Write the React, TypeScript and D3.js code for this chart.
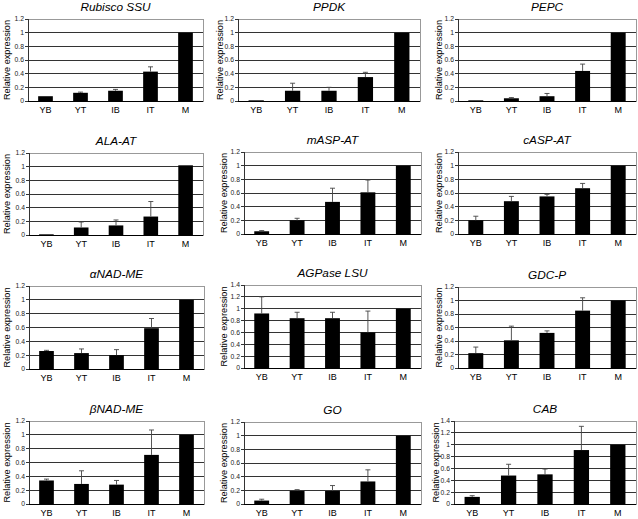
import React from "react";
import * as d3 from "d3";

const categories = ["YB", "YT", "IB", "IT", "M"];

const genes = [
  "Rubisco SSU", "PPDK", "PEPC",
  "ALA-AT", "mASP-AT", "cASP-AT",
  "\u03B1NAD-ME", "AGPase LSU", "GDC-P",
  "\u03B2NAD-ME", "GO", "CAB",
];

const yMaxes = [1.2, 1.2, 1.2, 1.2, 1.2, 1.2, 1.2, 1.4, 1.2, 1.2, 1.2, 1.4];

const meanValues = [
  [0.07, 0.12, 0.15, 0.43, 1.0],
  [0.01, 0.15, 0.15, 0.35, 1.0],
  [0.01, 0.04, 0.07, 0.44, 1.0],
  [0.01, 0.11, 0.14, 0.27, 1.02],
  [0.04, 0.2, 0.47, 0.61, 1.0],
  [0.2, 0.48, 0.55, 0.67, 1.0],
  [0.26, 0.23, 0.2, 0.59, 1.0],
  [0.92, 0.84, 0.84, 0.6, 1.0],
  [0.22, 0.41, 0.52, 0.85, 1.0],
  [0.34, 0.29, 0.28, 0.71, 1.0],
  [0.05, 0.19, 0.19, 0.33, 1.0],
  [0.12, 0.48, 0.5, 0.91, 1.0],
];

const errorValues = [
  [0.0, 0.01, 0.02, 0.07, 0.0],
  [0.0, 0.11, 0.05, 0.07, 0.0],
  [0.0, 0.01, 0.04, 0.1, 0.0],
  [0.0, 0.08, 0.08, 0.22, 0.0],
  [0.01, 0.03, 0.2, 0.18, 0.0],
  [0.06, 0.07, 0.03, 0.07, 0.0],
  [0.01, 0.06, 0.08, 0.14, 0.0],
  [0.28, 0.1, 0.1, 0.36, 0.0],
  [0.09, 0.21, 0.03, 0.19, 0.0],
  [0.02, 0.19, 0.06, 0.36, 0.0],
  [0.02, 0.02, 0.08, 0.17, 0.0],
  [0.02, 0.19, 0.09, 0.4, 0.0],
];

// layout per panel: [left, right, top, bottom, yTitleX]
const layout = [
  [28, 203, 19, 101, 7], [238, 420, 19, 101, 220], [458, 636, 19, 101, 439],
  [29, 203, 153, 235, 7], [244, 421, 152, 234, 224], [458, 636, 152, 234, 439],
  [29, 204, 286, 369, 7], [244, 421, 285, 368, 224], [458, 636, 287, 368, 439],
  [29, 204, 421, 504, 7], [244, 421, 422, 504, 224], [454, 636, 421, 504, 436],
];

const FONT = "'Liberation Sans', Arial, Helvetica, sans-serif";

function Panel({ idx }: { idx: number }) {
  const [l, r, t, b, yt] = layout[idx];
  const yMax = yMaxes[idx];
  const x = d3.scaleBand<string>().domain(categories).range([l, r]).paddingInner(0).paddingOuter(0);
  const y = d3.scaleLinear().domain([0, yMax]).range([b, t]);
  const ticks = d3.range(0, yMax + 0.001, 0.2).map((v) => +v.toFixed(1));
  const bw = x.bandwidth() * 0.42;
  const vals = meanValues[idx];
  const errs = errorValues[idx];
  return (
    <g>
      <text x={(l + r) / 2} y={t - 8.5} textAnchor="middle" fontStyle="italic" fontSize={11.8} fontFamily={FONT}>
        {genes[idx]}
      </text>
      <rect x={l} y={t} width={r - l} height={b - t} fill="white" stroke="#999" strokeWidth={1} shapeRendering="crispEdges" />
      {ticks.map((v) => (
        <g key={v}>
          {v > 0 && v < yMax - 0.001 && (
            <line x1={l} x2={r} y1={y(v)} y2={y(v)} stroke="#333" strokeWidth={1} shapeRendering="crispEdges" />
          )}
          <line x1={l - 3} x2={l} y1={y(v)} y2={y(v)} stroke="#333" strokeWidth={1} shapeRendering="crispEdges" />
          <text x={l - 4} y={y(v) + 2.4} textAnchor="end" fontSize={6.8} fontFamily={FONT} fill="#222">
            {String(v)}
          </text>
        </g>
      ))}
      {categories.map((c, i) => {
        const cx = (x(c) as number) + x.bandwidth() / 2;
        const top = vals[i] + errs[i];
        return (
          <g key={c}>
            <rect x={cx - bw / 2} y={y(vals[i])} width={bw} height={b - y(vals[i])} fill="#000" />
            {errs[i] > 0 && (
              <g stroke="#444" strokeWidth={0.9}>
                <line x1={cx} x2={cx} y1={y(vals[i])} y2={y(top)} />
                <line x1={cx - 2.5} x2={cx + 2.5} y1={y(top)} y2={y(top)} />
              </g>
            )}
            <text x={cx} y={b + 11.5} textAnchor="middle" fontSize={9} fontFamily={FONT}>
              {c}
            </text>
          </g>
        );
      })}
      <line x1={l} x2={r} y1={b} y2={b} stroke="#000" strokeWidth={1} shapeRendering="crispEdges" />
      <line x1={l} x2={l} y1={t} y2={b} stroke="#333" strokeWidth={1} shapeRendering="crispEdges" />
      <text
        transform={`translate(${yt + 3},${(t + b) / 2}) rotate(-90)`}
        textAnchor="middle"
        fontSize={9.2}
        fontFamily={FONT}
      >
        Relative expression
      </text>
    </g>
  );
}

export default function App() {
  return (
    <svg width={638} height={519} style={{ position: "absolute", left: 0, top: 0, background: "white" }}>
      <rect width={638} height={519} fill="white" />
      {genes.map((g, i) => (
        <Panel key={g} idx={i} />
      ))}
    </svg>
  );
}
